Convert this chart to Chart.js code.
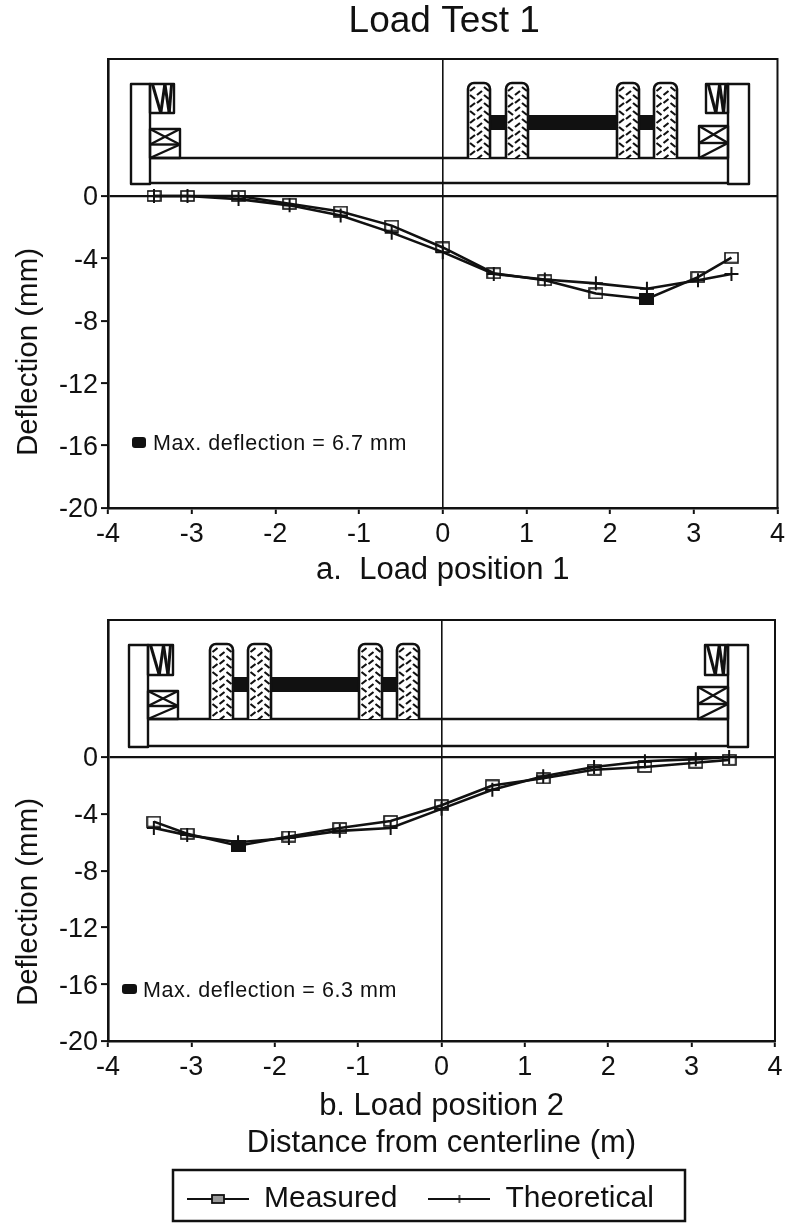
<!DOCTYPE html>
<html>
<head>
<meta charset="utf-8">
<title>Load Test 1</title>
<script src="https://cdn.jsdelivr.net/npm/chart.js@4/dist/chart.umd.min.js"></script>
<style>
  html, body { margin: 0; padding: 0; background: #fff; overflow: hidden; height: 1223px; }
  canvas { position: absolute; left: 0; filter: blur(0.4px); }
  #chart-a { top: 0; }
  #chart-b { top: 600px; }
</style>
</head>
<body>
<canvas id="chart-a" width="789" height="600"></canvas>
<canvas id="chart-b" width="787" height="633"></canvas>
<script>
const FONT = '"Liberation Sans", Arial, sans-serif';
const INK = "#111";

const chartTitle = "Load Test 1";
const yAxisLabel = "Deflection (mm)";
const xLabelA = "a.  Load position 1";
const xLabelB = ["b. Load position 2", "Distance from centerline (m)"];
const seriesNames = ["Measured", "Theoretical"];
const noteA = "Max. deflection = 6.7 mm";
const noteB = "Max. deflection = 6.3 mm";

const yTicks = [0, -4, -8, -12, -16, -20];
const distance = [-3.45, -3.05, -2.44, -1.83, -1.22, -0.61, 0, 0.61, 1.22, 1.83, 2.44, 3.05, 3.45];

const measuredA = [0, 0, 0, -0.5, -1.0, -1.9, -3.3, -4.95, -5.4, -6.25, -6.6, -5.2, -3.95];
const theoreticalA = [0, 0, -0.2, -0.6, -1.25, -2.35, -3.6, -5.0, -5.35, -5.6, -5.95, -5.4, -5.0];
const measuredB = [-4.55, -5.4, -6.25, -5.6, -5.0, -4.5, -3.4, -2.0, -1.5, -0.9, -0.7, -0.4, -0.2];
const theoreticalB = [-5.0, -5.5, -6.0, -5.7, -5.2, -5.0, -3.65, -2.3, -1.35, -0.7, -0.3, -0.15, 0];

// point of max deflection gets the solid marker
const maxIndexA = 10;
const maxIndexB = 2;

function makeIcon(w, h, draw) {
  const c = document.createElement("canvas");
  c.width = w;
  c.height = h;
  draw(c.getContext("2d"));
  return c;
}

const openBox = makeIcon(15, 12, (g) => {
  g.strokeStyle = INK;
  g.lineWidth = 1.6;
  g.strokeRect(1, 1, 13, 10);
});
const solidBox = makeIcon(15, 12, (g) => {
  g.fillStyle = INK;
  g.fillRect(0, 0, 15, 12);
});
const legendMeasured = makeIcon(62, 14, (g) => {
  g.strokeStyle = INK;
  g.lineWidth = 1.8;
  g.beginPath(); g.moveTo(0, 7); g.lineTo(62, 7); g.stroke();
  g.fillStyle = "#999";
  g.fillRect(25, 3, 12, 8);
  g.strokeRect(25, 3, 12, 8);
});
const legendTheoretical = makeIcon(62, 14, (g) => {
  g.strokeStyle = INK;
  g.lineWidth = 1.8;
  g.beginPath(); g.moveTo(0, 7); g.lineTo(62, 7); g.stroke();
  g.lineWidth = 1.4;
  g.beginPath(); g.moveTo(31, 3); g.lineTo(31, 11); g.stroke();
});

function line(ctx, x0, y0, x1, y1) {
  ctx.beginPath();
  ctx.moveTo(x0, y0);
  ctx.lineTo(x1, y1);
  ctx.stroke();
}

function drawTyre(ctx, x0, x1, y0, y1) {
  ctx.save();
  ctx.beginPath();
  ctx.roundRect(x0, y0, x1 - x0, y1 - y0 + 6, 6);
  ctx.fillStyle = "#fff";
  ctx.fill();
  ctx.lineWidth = 2.6;
  ctx.stroke();
  ctx.clip();
  ctx.lineWidth = 2.2;
  const mid = (x0 + x1) / 2;
  let flip = 0;
  for (let y = y0 + 6; y < y1; y += 8) {
    const dir = flip % 2 ? 1 : -1;
    line(ctx, mid - 9, y - 2 * dir, mid - 4, y + 2 * dir);
    line(ctx, mid - 2, y + 4 + 2, mid + 3, y + 4 - 2);
    line(ctx, mid + 5, y - 2, mid + 10, y + 2);
    flip++;
  }
  ctx.restore();
}

function drawUpperBox(ctx, x0, x1, y0, y1) {
  ctx.strokeRect(x0, y0, x1 - x0, y1 - y0);
  const w = x1 - x0;
  ctx.save();
  ctx.lineWidth = 3;
  line(ctx, x0 + w * 0.1, y0, x0 + w * 0.45, y1);
  line(ctx, x0 + w * 0.45, y1, x0 + w * 0.62, y0);
  line(ctx, x0 + w * 0.62, y0, x0 + w * 0.8, y1);
  line(ctx, x0 + w * 0.8, y1, x0 + w * 0.9, y0);
  ctx.restore();
}

function drawLowerBox(ctx, x0, x1, y0, y1) {
  ctx.strokeRect(x0, y0, x1 - x0, y1 - y0);
  const mid = (y0 + y1) / 2 + 1;
  line(ctx, x0, mid, x1, mid);
  line(ctx, x0, y0, x1, mid);
  line(ctx, x1, y0, x0, mid);
  line(ctx, x0, y1, x1, mid);
}

const schematic = {
  id: "schematic",
  afterDraw(chart, args, o) {
    const { ctx } = chart;
    ctx.save();
    ctx.translate(0, -o.canvasTop);
    ctx.strokeStyle = INK;
    ctx.lineWidth = 2.4;
    ctx.fillStyle = INK;
    ctx.lineJoin = "round";
    // walls and deck
    ctx.strokeRect(o.wallL[0], o.top, o.wallL[1] - o.wallL[0], o.bottom - o.top);
    ctx.strokeRect(o.wallR[0], o.top, o.wallR[1] - o.wallR[0], o.bottom - o.top);
    line(ctx, o.wallL[1], o.deckTop, o.wallR[0], o.deckTop);
    line(ctx, o.wallL[1], o.bottom - 1, o.wallR[0], o.bottom - 1);
    // curbs and rails
    drawUpperBox(ctx, o.wallL[1], o.railL, o.top, o.railBottom);
    drawUpperBox(ctx, o.railR, o.wallR[0], o.top, o.railBottom);
    drawLowerBox(ctx, o.wallL[1], o.curbL, o.curbTopL, o.deckTop);
    drawLowerBox(ctx, o.curbR, o.wallR[0], o.curbTopR, o.deckTop);
    // axles, then tyres over them
    o.axles.forEach(([x0, x1]) => ctx.fillRect(x0, o.axleTop, x1 - x0, o.axleBottom - o.axleTop));
    ctx.save();
    ctx.beginPath();
    ctx.rect(0, o.top - 4, 787, o.deckTop - o.top + 4);
    ctx.clip();
    o.tyres.forEach(([x0, x1]) => drawTyre(ctx, x0, x1, o.tyreTop, o.deckTop));
    ctx.restore();
    // max deflection note
    ctx.beginPath();
    ctx.roundRect(o.noteBox[0], o.noteBox[1], o.noteBox[2], o.noteBox[3], 3);
    ctx.fill();
    ctx.font = `21.5px ${FONT}`;
    ctx.textBaseline = "middle";
    ctx.textAlign = "left";
    ctx.letterSpacing = "0.55px";
    ctx.fillText(o.note, o.noteX, o.noteY);
    ctx.letterSpacing = "0px";
    // y axis title, sits lower than the axis centre
    ctx.translate(o.yTitleX, o.yTitleY);
    ctx.rotate(-Math.PI / 2);
    ctx.font = `29.5px ${FONT}`;
    ctx.textAlign = "center";
    ctx.fillText(yAxisLabel, 0, 0);
    ctx.restore();
  },
};

const frame = {
  id: "frame",
  afterLayout(chart) {
    if (chart.titleBlock) {
      chart.titleBlock.left = chart.chartArea.left + 3;
      chart.titleBlock.right = chart.chartArea.right;
    }
    const lg = chart.legend;
    if (lg && lg.options.display) {
      const pad = lg.options.labels.padding;
      lg.left = 187 - pad;
      lg.right = 685;
      lg.top = 1184 - 600 - pad;
    }
  },
  afterDatasetsDraw(chart) {
    const { ctx, chartArea: a } = chart;
    ctx.save();
    ctx.strokeStyle = INK;
    ctx.lineWidth = 2;
    ctx.strokeRect(a.left, a.top, a.right - a.left, a.bottom - a.top);
    ctx.restore();
  },
  afterDraw(chart) {
    const lg = chart.legend;
    if (!lg || !lg.options.display) return;
    const { ctx } = chart;
    ctx.save();
    ctx.strokeStyle = INK;
    ctx.lineWidth = 2.5;
    ctx.strokeRect(173, 1170 - 600, 512, 51);
    ctx.restore();
  },
};

const points = (values) => distance.map((x, i) => ({ x, y: values[i] }));

function buildChart(id, cfg) {
  return new Chart(document.getElementById(id), {
    type: "scatter",
    data: {
      datasets: [
        {
          label: seriesNames[0],
          data: points(cfg.measured),
          showLine: true,
          borderColor: INK,
          borderWidth: 2.6,
          pointStyle: distance.map((_, i) => (i === cfg.maxIndex ? solidBox : openBox)),
          pointRadius: 6,
        },
        {
          label: seriesNames[1],
          data: points(cfg.theoretical),
          showLine: true,
          borderColor: INK,
          borderWidth: 2.6,
          pointStyle: "cross",
          pointRadius: 7,
          pointBorderColor: INK,
          pointBorderWidth: 2,
        },
      ],
    },
    options: {
      responsive: false,
      animation: false,
      events: [],
      layout: { padding: cfg.padding },
      plugins: {
        tooltip: { enabled: false },
        title: cfg.title,
        legend: cfg.legend,
        schematic: cfg.schematic,
      },
      scales: {
        x: {
          type: "linear",
          min: -4,
          max: 4,
          afterFit: (s) => { s.height = cfg.xHeight; },
          ticks: {
            stepSize: 1,
            color: INK,
            padding: 4,
            maxRotation: 0,
            font: { family: FONT, size: 27 },
            callback: (v) => String(v),
          },
          grid: {
            color: (c) => (c.tick && c.tick.value === 0 ? INK : "rgba(0,0,0,0)"),
            tickColor: INK,
            tickLength: 6,
            lineWidth: 1.6,
            tickWidth: 2,
          },
          border: { display: true, color: INK, width: 2.6 },
          title: {
            display: true,
            text: cfg.xLabel,
            color: INK,
            padding: 0,
            font: { family: FONT, size: 31, lineHeight: 1.2 },
          },
        },
        y: {
          type: "linear",
          min: -20,
          max: cfg.yMax,
          afterFit: (s) => { s.width = 108; },
          afterBuildTicks: (s) => { s.ticks = yTicks.map((value) => ({ value })); },
          ticks: {
            color: INK,
            padding: 3,
            labelOffset: 2,
            font: { family: FONT, size: 27 },
            callback: (v) => String(v),
          },
          grid: {
            color: (c) => (c.tick && c.tick.value === 0 ? INK : "rgba(0,0,0,0)"),
            tickColor: INK,
            tickLength: 7,
            lineWidth: 2.2,
            tickWidth: 2,
          },
          border: { display: true, color: INK, width: 2.6 },
        },
      },
    },
    plugins: [frame, schematic],
  });
}

buildChart("chart-a", {
  measured: measuredA,
  theoretical: theoreticalA,
  maxIndex: maxIndexA,
  xLabel: xLabelA,
  xHeight: 81,
  yMax: 8.78,
  padding: { left: 0, right: 10, top: 0, bottom: 11 },
  title: {
    display: true,
    text: chartTitle,
    color: INK,
    padding: { top: 3, bottom: 19 },
    font: { family: FONT, size: 37, weight: "normal", lineHeight: 1 },
  },
  legend: { display: false },
  schematic: {
    canvasTop: 0,
    wallL: [131, 150], wallR: [728, 749],
    top: 84, bottom: 184, deckTop: 158,
    railL: 174, railR: 706, railBottom: 113,
    curbL: 180, curbR: 699, curbTopL: 129, curbTopR: 126,
    axleTop: 115, axleBottom: 130,
    axles: [[490, 506], [528, 617], [639, 654]],
    tyreTop: 83,
    tyres: [[468, 490], [506, 528], [617, 639], [654, 677]],
    noteBox: [132, 437, 14, 11],
    note: noteA, noteX: 153, noteY: 444,
    yTitleX: 29, yTitleY: 352,
  },
});

buildChart("chart-b", {
  measured: measuredB,
  theoretical: theoreticalB,
  maxIndex: maxIndexB,
  xLabel: xLabelB,
  xHeight: 121,
  yMax: 9.65,
  padding: { left: 0, right: 12, top: 20, bottom: 0 },
  title: { display: false },
  legend: {
    display: true,
    position: "bottom",
    align: "start",
    labels: {
      usePointStyle: true,
      pointStyleWidth: 62,
      padding: 31,
      color: INK,
      font: { family: FONT, size: 30 },
      generateLabels: () => [
        { text: seriesNames[0], pointStyle: legendMeasured, fontColor: INK, lineWidth: 0, strokeStyle: INK, fillStyle: INK },
        { text: seriesNames[1], pointStyle: legendTheoretical, fontColor: INK, lineWidth: 0, strokeStyle: INK, fillStyle: INK },
      ],
    },
  },
  schematic: {
    canvasTop: 600,
    wallL: [129, 148], wallR: [728, 748],
    top: 645, bottom: 747, deckTop: 719,
    railL: 173, railR: 705, railBottom: 675,
    curbL: 178, curbR: 698, curbTopL: 691, curbTopR: 687,
    axleTop: 677, axleBottom: 692,
    axles: [[233, 248], [271, 359], [382, 397]],
    tyreTop: 644,
    tyres: [[210, 233], [248, 271], [359, 382], [397, 419]],
    noteBox: [122, 984, 15, 10],
    note: noteB, noteX: 143, noteY: 991,
    yTitleX: 29, yTitleY: 902,
  },
});
</script>
</body>
</html>
